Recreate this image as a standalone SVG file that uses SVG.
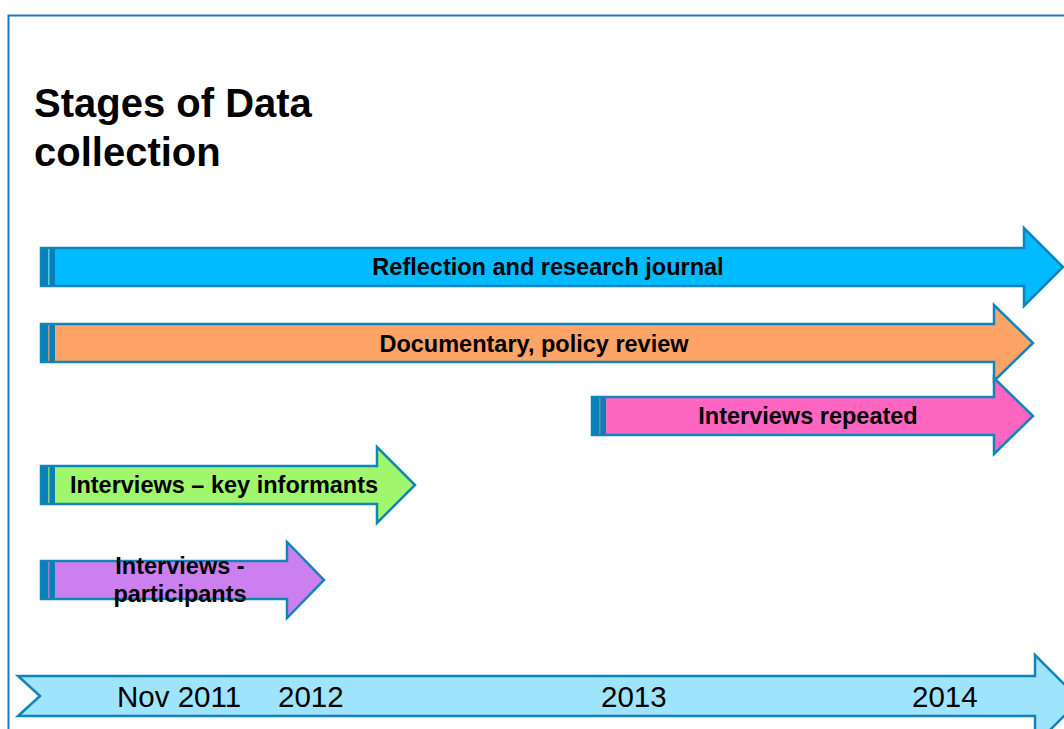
<svg xmlns="http://www.w3.org/2000/svg" width="1064" height="729" viewBox="0 0 1064 729">
<style>
.arr{stroke:#1185b9;stroke-width:2.5;stroke-linejoin:miter}
.strip{fill:#0a80b8}
.lab{font-family:"Liberation Sans",Arial,sans-serif;font-weight:bold;font-size:23.5px;fill:#000;text-anchor:middle}
.yr{font-family:"Liberation Sans",Arial,sans-serif;font-size:29.5px;fill:#000}
.title{font-family:"Liberation Sans",Arial,sans-serif;font-weight:bold;font-size:40px;fill:#000}
</style>
<rect x="0" y="0" width="1064" height="729" fill="#fff"/>
<rect x="8.5" y="15.5" width="1070" height="730" fill="none" stroke="#1a75cf" stroke-width="2"/>
<g id="title">
<text class="title" x="34" y="117">Stages of Data</text>
<text class="title" x="34" y="166">collection</text>
</g>
<g id="timeline">
<path class="arr" d="M18,676 L1035,676 L1035,655 L1080,700 L1035,745 L1035,716 L18,716 L40,696 Z" fill="#9ee4fc"/>
<text class="yr" x="117" y="707">Nov 2011</text>
<text class="yr" x="278" y="707">2012</text>
<text class="yr" x="601" y="707">2013</text>
<text class="yr" x="912" y="707">2014</text>
</g>
<g id="reflection">
<path class="arr" d="M41,248 L1024,248 L1024,228 L1063,267 L1024,306 L1024,286 L41,286 Z" fill="#00bbff"/>
<rect class="strip" x="41" y="249" width="14" height="36"/>
<rect x="48" y="249" width="1.5" height="36" fill="#5ac8ee"/>
<text class="lab" x="548" y="275">Reflection and research journal</text>
</g>
<g id="documentary">
<path class="arr" d="M41,324 L994,324 L994,305 L1033,343 L994,381 L994,362 L41,362 Z" fill="#fea466"/>
<rect class="strip" x="41" y="325" width="14" height="36"/>
<rect x="48" y="325" width="1.5" height="36" fill="#b59a80"/>
<text class="lab" x="534" y="352">Documentary, policy review</text>
</g>
<g id="repeated">
<path class="arr" d="M592,397 L994,397 L994,378 L1033,416 L994,454 L994,435 L592,435 Z" fill="#ff66c2"/>
<rect class="strip" x="592" y="398" width="14" height="36"/>
<rect x="599" y="398" width="1.5" height="36" fill="#9b6fbf"/>
<text class="lab" x="808" y="424">Interviews repeated</text>
</g>
<g id="key-informants">
<path class="arr" d="M41,466 L377,466 L377,447 L415,485 L377,523 L377,504 L41,504 Z" fill="#a0f76c"/>
<rect class="strip" x="41" y="467" width="14" height="36"/>
<rect x="48" y="467" width="1.5" height="36" fill="#7fcf80"/>
<text class="lab" x="224" y="493">Interviews – key informants</text>
</g>
<g id="participants">
<path class="arr" d="M41,561 L287,561 L287,542 L324,580 L287,618 L287,599 L41,599 Z" fill="#cc7fef"/>
<rect class="strip" x="41" y="562" width="14" height="36"/>
<rect x="48" y="562" width="1.5" height="36" fill="#9f7fd0"/>
<text class="lab" x="180" y="574">Interviews -</text>
<text class="lab" x="180" y="602">participants</text>
</g>
</svg>
